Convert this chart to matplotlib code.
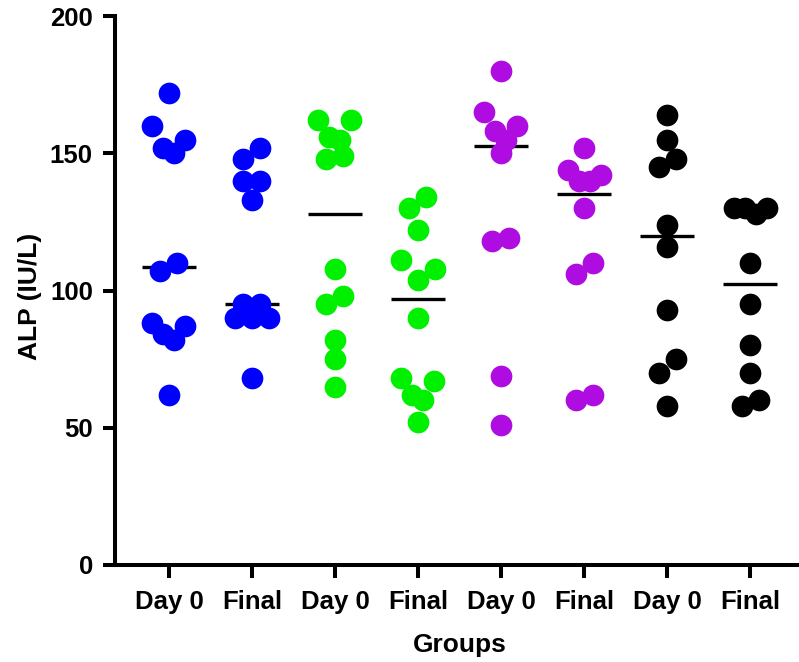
import numpy as np
import matplotlib
matplotlib.use("Agg")
import matplotlib.pyplot as plt

# Group labels along the x axis and the colour of each group
categories = ["Day 0", "Final", "Day 0", "Final", "Day 0", "Final", "Day 0", "Final"]
group_colors = ["#0000FF", "#0000FF", "#00F000", "#00F000",
                "#AE0CE0", "#AE0CE0", "#000000", "#000000"]

# ALP (IU/L) per animal
blue_day0 = [172, 160, 155, 152, 150, 110, 107, 88, 87, 84, 82, 62]
blue_final = [152, 148, 140, 140, 133, 95, 95, 90, 90, 90, 68]
green_day0 = [162, 162, 156, 155, 149, 148, 108, 98, 95, 82, 75, 65]
green_final = [134, 130, 122, 111, 108, 104, 90, 68, 67, 62, 60, 52]
purple_day0 = [180, 165, 160, 158, 155, 150, 119, 118, 69, 51]
purple_final = [152, 144, 142, 140, 140, 130, 110, 106, 62, 60]
black_day0 = [164, 155, 148, 145, 124, 116, 93, 75, 70, 58]
black_final = [130, 130, 130, 128, 110, 95, 80, 70, 60, 58]

groups = [blue_day0, blue_final, green_day0, green_final,
          purple_day0, purple_final, black_day0, black_final]

y_ticks = [0, 50, 100, 150, 200]

W, H, DPI = 799, 662, 100
fig = plt.figure(figsize=(W / DPI, H / DPI), dpi=DPI)
ax_left, ax_bottom, ax_w, ax_h = 115, 97, 684, 549
ax = fig.add_axes([ax_left / W, ax_bottom / H, ax_w / W, ax_h / H])

xmin, xmax = -0.65, 7.59
ymin, ymax = 0, 200
ax.set_xlim(xmin, xmax)
ax.set_ylim(ymin, ymax)

px_x = ax_w / (xmax - xmin)   # pixels per category step
dot_px = 21.7                 # dot diameter in pixels

# Horizontal slots (pixels) for a row of n neighbouring dots, and the order
# in which the row's dots (highest value first) fill those slots.
ROW_SLOTS = {1: [0.0], 2: [8.5, -8.5], 3: [-17.0, 17.0, 0.0],
             4: [-16.5, 16.5, -5.5, 5.5]}


def split_rows(vals, gap=6.5, max_row=4):
    """Split descending values into rows of close neighbours."""
    rows, cur = [], [0]
    for k in range(1, len(vals)):
        if vals[cur[-1]] - vals[k] > gap:
            rows.append(cur)
            cur = [k]
        else:
            cur.append(k)
    rows.append(cur)

    def cut(row):
        if len(row) <= max_row:
            return [row]
        gaps = [vals[row[j]] - vals[row[j + 1]] for j in range(len(row) - 1)]
        g = max(gaps)
        j = len(gaps) - 1 - gaps[::-1].index(g)
        return cut(row[:j + 1]) + cut(row[j + 1:])

    out = []
    for r in rows:
        out.extend(cut(r))
    return out


def column_offsets(values):
    vals = np.asarray(values, dtype=float)
    order = np.argsort(-vals, kind="stable")
    svals = vals[order]
    offs = np.zeros(len(vals))
    for row in split_rows(list(svals)):
        slots = ROW_SLOTS[len(row)]
        for k, idx in enumerate(row):
            offs[order[idx]] = slots[k] / px_x
    return offs


marker_pt = dot_px * 72 / DPI
for i, (vals, col) in enumerate(zip(groups, group_colors)):
    xs = i + column_offsets(vals)
    ax.scatter(xs, vals, s=marker_pt ** 2, color=col, linewidths=0, zorder=3)
    med = np.median(vals)
    ax.hlines(med, i - 0.33, i + 0.33, color="black", linewidth=2.4, zorder=2)

for side in ["top", "right"]:
    ax.spines[side].set_visible(False)
for side in ["left", "bottom"]:
    ax.spines[side].set_linewidth(2.9)
    ax.spines[side].set_capstyle("projecting")

ax.set_xticks(range(len(categories)))
ax.set_xticklabels(categories)
ax.set_yticks(y_ticks)

font = "Liberation Sans"
ax.tick_params(axis="both", length=9, width=2.9)
ax.tick_params(axis="x", pad=9, labelsize=18.5)
ax.tick_params(axis="y", pad=7, labelsize=18.5)
for lab in ax.get_xticklabels() + ax.get_yticklabels():
    lab.set_fontfamily(font)
    lab.set_fontweight("bold")

ax.set_xlabel("Groups", fontsize=19, fontweight="bold", family=font)
ax.set_ylabel("ALP (IU/L)", fontsize=19, fontweight="bold", family=font)
ax.xaxis.label.set_va("center")
ax.yaxis.label.set_va("center")
ax.xaxis.set_label_coords((3.5 - xmin) / (xmax - xmin), (565 - 645) / ax_h)
ax.yaxis.set_label_coords((30 - ax_left) / ax_w, (565 - 296) / ax_h)

fig.savefig("out.png", dpi=DPI)
